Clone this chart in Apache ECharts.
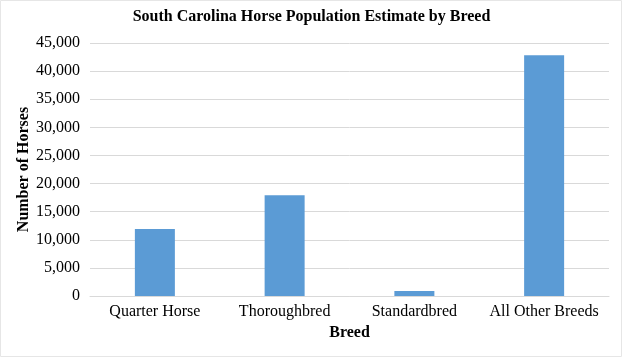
<!DOCTYPE html>
<html>
<head>
<meta charset="utf-8">
<script src="https://cdn.jsdelivr.net/npm/echarts@6/dist/echarts.min.js"></script>
<style>
html,body{margin:0;padding:0;background:#fff;}
#chart{width:623px;height:358px;}
</style>
</head>
<body>
<div id="chart"></div>
<script>
const titleText = "South Carolina Horse Population Estimate by Breed";
const categories = ["Quarter Horse", "Thoroughbred", "Standardbred", "All Other Breeds"];
const horses = [11900, 17900, 900, 42800];
const yTicks = [0, 5000, 10000, 15000, 20000, 25000, 30000, 35000, 40000, 45000];
const xAxisName = "Breed";
const yAxisName = "Number of Horses";

const font = "'Liberation Serif', 'Times New Roman', serif";
const chart = echarts.init(document.getElementById('chart'), null, {renderer: 'canvas'});
chart.setOption({
  animation: false,
  backgroundColor: '#ffffff',
  title: {
    text: titleText,
    left: 'center',
    top: 9,
    padding: 0,
    textStyle: {fontFamily: font, fontWeight: 'bold', fontSize: 16, color: '#000'}
  },
  grid: {left: 90, right: 14, top: 43, bottom: 62},
  xAxis: {
    type: 'category',
    data: categories,
    name: xAxisName,
    nameLocation: 'middle',
    nameGap: 29,
    nameMoveOverlap: false,
    nameTextStyle: {fontFamily: font, fontWeight: 'bold', fontSize: 16, color: '#000'},
    axisLine: {lineStyle: {color: '#d9d9d9', width: 1}},
    axisTick: {show: false},
    axisLabel: {fontFamily: font, fontSize: 16, color: '#000', margin: 8, interval: 0}
  },
  yAxis: {
    type: 'value',
    min: 0,
    max: yTicks[yTicks.length - 1],
    interval: yTicks[1] - yTicks[0],
    name: yAxisName,
    nameLocation: 'middle',
    nameGap: 58,
    nameMoveOverlap: false,
    nameTextStyle: {fontFamily: font, fontWeight: 'bold', fontSize: 16, color: '#000'},
    axisLine: {show: false},
    axisTick: {show: false},
    splitLine: {lineStyle: {color: '#d9d9d9', width: 1}},
    axisLabel: {
      fontFamily: font, fontSize: 16, color: '#000', margin: 10,
      formatter: v => v.toLocaleString('en-US')
    }
  },
  graphic: [{
    type: 'rect',
    shape: {x: 0.5, y: 0.5, width: 621, height: 356},
    style: {fill: 'none', stroke: '#e6e6e6', lineWidth: 1},
    silent: true
  }],
  series: [{
    type: 'bar',
    data: horses,
    barWidth: 40,
    itemStyle: {color: '#5b9bd5'}
  }]
});
</script>
</body>
</html>
